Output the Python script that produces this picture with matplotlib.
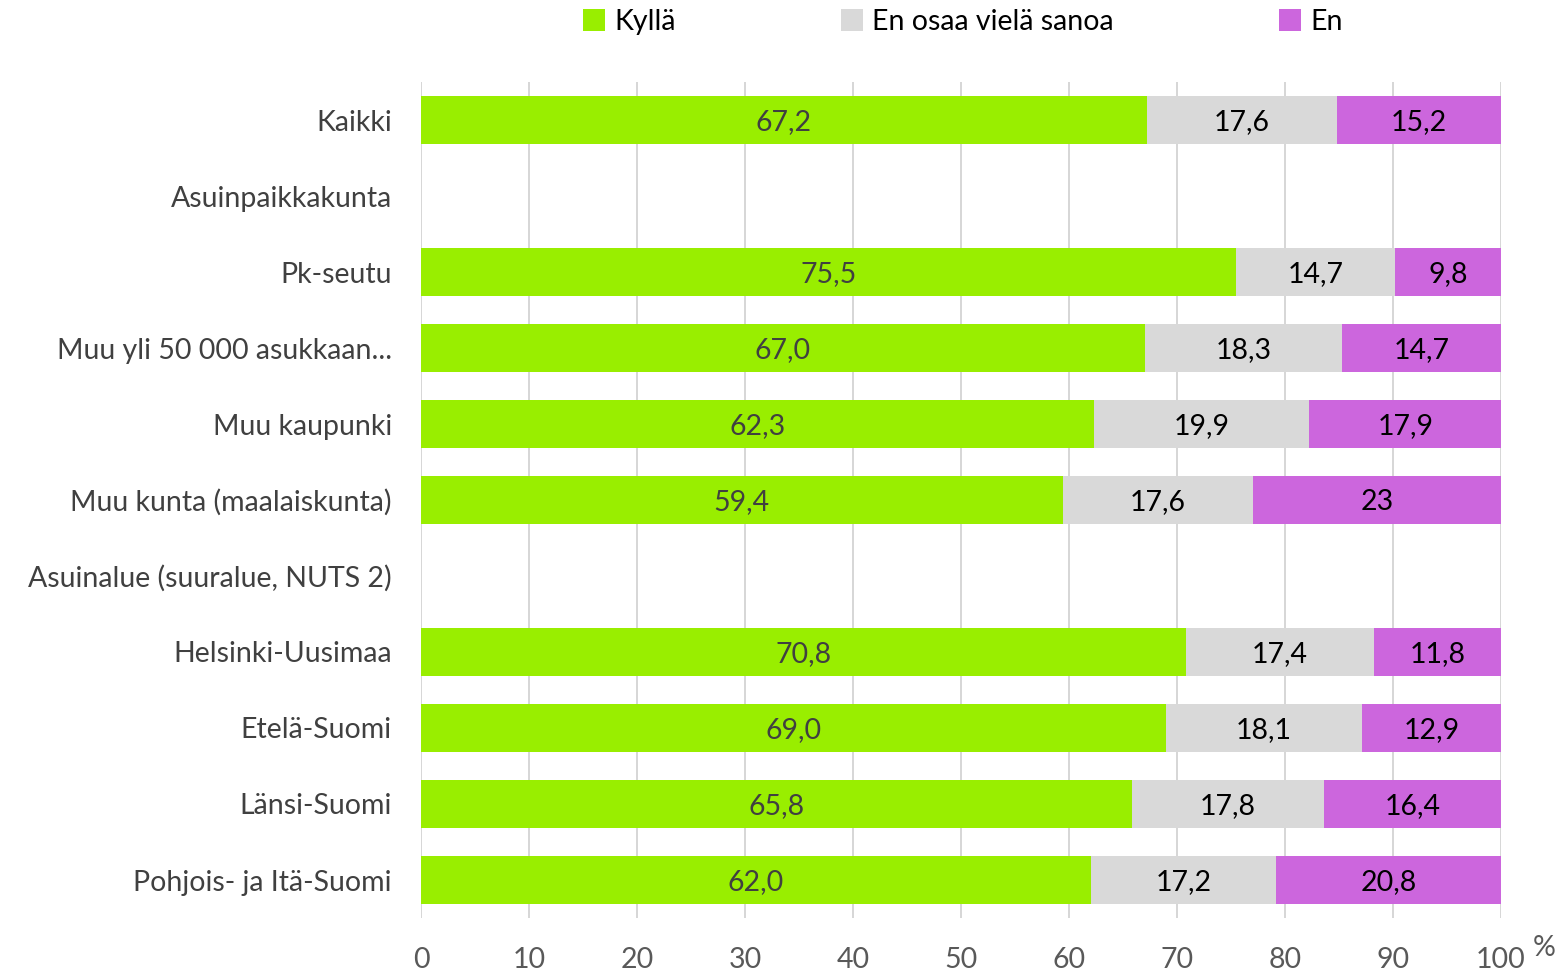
import matplotlib.pyplot as plt
import numpy as np

plt.rcParams['font.family'] = ['Lato', 'DejaVu Sans']

# data (header rows have no bars)
categories = ["Kaikki", "Asuinpaikkakunta", "Pk-seutu", "Muu yli 50 000 asukkaan...",
              "Muu kaupunki", "Muu kunta (maalaiskunta)", "Asuinalue (suuralue, NUTS 2)",
              "Helsinki-Uusimaa", "Etelä-Suomi", "Länsi-Suomi", "Pohjois- ja Itä-Suomi"]
kylla = [67.2, np.nan, 75.5, 67.0, 62.3, 59.4, np.nan, 70.8, 69.0, 65.8, 62.0]
eos = [17.6, np.nan, 14.7, 18.3, 19.9, 17.6, np.nan, 17.4, 18.1, 17.8, 17.2]
en = [15.2, np.nan, 9.8, 14.7, 17.9, 23, np.nan, 11.8, 12.9, 16.4, 20.8]
en_labels = ["15,2", "", "9,8", "14,7", "17,9", "23", "", "11,8", "12,9", "16,4", "20,8"]

series = [("Kyllä", kylla, "#99EE00", "#404040"),
          ("En osaa vielä sanoa", eos, "#D9D9D9", "#000000"),
          ("En", en, "#CC66DD", "#000000")]

FS = 20.5

fig = plt.figure(figsize=(15.6, 9.74), dpi=100)
ax = fig.add_axes([421 / 1560, 1 - 918 / 974, 1080 / 1560, 836 / 974])

y = np.arange(len(categories))
left = np.zeros(len(categories))
for name, vals, col, tcol in series:
    v = np.nan_to_num(np.array(vals, dtype=float))
    ax.barh(y, v, left=left, height=0.63, color=col, label=name, zorder=3)
    for i, val in enumerate(vals):
        if np.isnan(val):
            continue
        if name == "En":
            txt = en_labels[i]
        else:
            txt = f"{val:.1f}".replace(".", ",")
        ax.text(left[i] + v[i] / 2, i + 0.03, txt, ha='center', va='center',
                fontsize=FS, color=tcol, zorder=4)
    left = left + v

ax.set_xlim(0, 100)
ax.set_ylim(len(categories) - 0.5, -0.5)
ax.set_xticks(np.arange(0, 101, 10))
ax.set_yticks(y)
ax.set_yticklabels(categories)
ax.tick_params(axis='y', length=0, pad=21, labelsize=FS, labelcolor='#404040')
ax.tick_params(axis='x', length=0, pad=21, labelsize=FS, labelcolor='#595959')
ax.grid(axis='x', color='#D0D0D0', linewidth=1.2, zorder=0)
for s in ax.spines.values():
    s.set_visible(False)

fig.text(1544 / 1560, 1 - 948 / 974, "%", fontsize=FS, color='#595959',
         ha='center', va='center')

fig.legend(loc='center', bbox_to_anchor=(0.617, 1 - 22 / 974), ncol=3, frameon=False,
           fontsize=FS, handlelength=0.8, handleheight=0.8, handletextpad=0.3,
           columnspacing=5.8)

plt.savefig("out.png", dpi=100)
